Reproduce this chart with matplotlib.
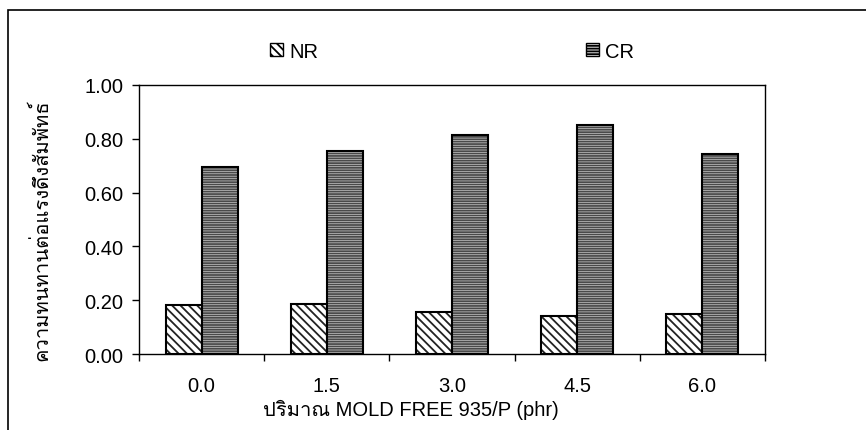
import matplotlib
matplotlib.use("Agg")
import matplotlib.pyplot as plt
from matplotlib import font_manager
from matplotlib.ft2font import FT2Font
from matplotlib.patches import Rectangle
import numpy as np

# Data
categories = ["0.0", "1.5", "3.0", "4.5", "6.0"]
nr_values = [0.182, 0.187, 0.155, 0.142, 0.150]
cr_values = [0.696, 0.753, 0.814, 0.853, 0.742]
series_names = ["NR", "CR"]
y_label = "ความทนทานต่อแรงดึงสัมพัทธ์"
x_label = "ปริมาณ MOLD FREE 935/P (phr)"


def find_thai_family():
    """Look for an installed font that has Thai glyphs."""
    for f in font_manager.fontManager.ttflist:
        try:
            if ord("ก") in FT2Font(f.fname).get_charmap():
                return f.name
        except Exception:
            continue
    return None


thai = find_thai_family()
families = ["Liberation Sans"] + ([thai] if thai else []) + ["DejaVu Sans"]
plt.rcParams["font.family"] = families
plt.rcParams["font.size"] = 14.5
plt.rcParams["hatch.linewidth"] = 1.3

fig = plt.figure(figsize=(8.66, 4.31), dpi=100)
ax = fig.add_axes([0.1605, 0.1763, 0.7229, 0.6242])

x = np.arange(len(categories))
w = 0.287

# NR: white with diagonal lines
ax.bar(x - w / 2, nr_values, w, color="white", edgecolor="#222222",
       hatch="\\\\\\\\", linewidth=0)
ax.bar(x - w / 2, nr_values, w, fill=False, edgecolor="black", linewidth=1.5)
# CR: grey with horizontal stripes
ax.bar(x + w / 2, cr_values, w, color="#e4e4e4", edgecolor="#4a4a4a",
       hatch="-------", linewidth=0)
ax.bar(x + w / 2, cr_values, w, fill=False, edgecolor="black", linewidth=1.5)

ax.set_xlim(-0.5, len(categories) - 0.5)
ax.set_ylim(0, 1.0)
ax.set_yticks(np.arange(0, 1.01, 0.2))
ax.set_yticklabels([f"{v:.2f}" for v in np.arange(0, 1.01, 0.2)])
ax.set_xticks(x)
ax.set_xticklabels(categories)
ax.set_xticks(np.arange(-0.5, len(categories), 1.0), minor=True)
ax.tick_params(axis="x", which="major", length=0, pad=16)
ax.tick_params(axis="x", which="minor", length=5, width=1, direction="out")
ax.tick_params(axis="y", length=5, width=1, direction="out", pad=6)
for s in ax.spines.values():
    s.set_linewidth(1.0)

ax.set_ylabel(y_label)
ax.yaxis.set_label_coords(-0.14, 0.465)
ax.set_xlabel(x_label)
ax.xaxis.set_label_coords(0.435, -0.168)

# legend squares above the plot
h_nr = Rectangle((0, 0), 1, 1, facecolor="white", edgecolor="black",
                 hatch="\\\\\\\\", linewidth=1)
h_cr = Rectangle((0, 0), 1, 1, facecolor="#e4e4e4", edgecolor="black",
                 hatch="------", linewidth=1)
fig.legend([h_nr, h_cr], series_names, loc="center",
           bbox_to_anchor=(0.522, 0.879), ncol=2, frameon=False,
           handlelength=0.65, handleheight=0.65, handletextpad=0.3,
           columnspacing=13.3)

# outer frame around the chart (cut off at right and bottom)
fig.add_artist(Rectangle((0.0092, -0.1), 1.2, 1.0745, transform=fig.transFigure,
                         fill=False, edgecolor="black", linewidth=1.2))

fig.savefig("out.png", dpi=100)
